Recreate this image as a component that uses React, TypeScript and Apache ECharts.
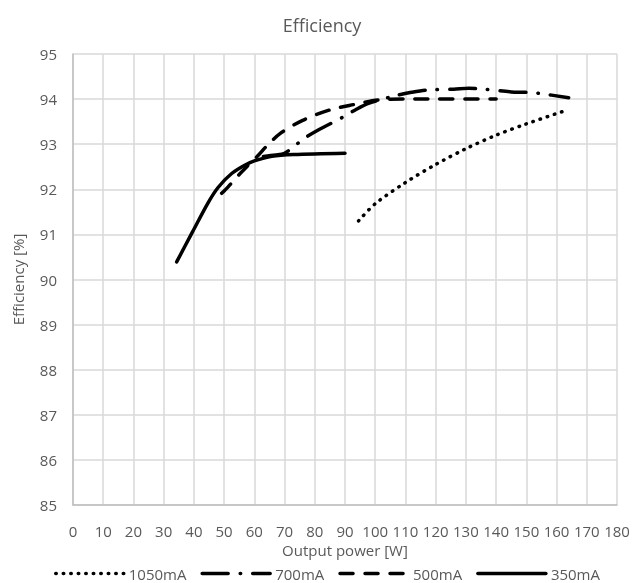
import React, { useEffect, useRef } from "react";
import * as echarts from "echarts";

const chartTitle = "Efficiency";
const xName = "Output power [W]";
const yName = "Efficiency [%]";
const seriesNames = ["1050mA", "700mA", "500mA", "350mA"];

// [output power W, efficiency %]
const data1050: number[][] = [
  [94.5, 91.3], [100, 91.68], [110, 92.15], [120, 92.55], [130, 92.9],
  [140, 93.2], [150, 93.45], [163.6, 93.76],
];
const data700: number[][] = [
  [63, 92.73], [67, 92.76], [70, 92.8], [74, 93.0], [77, 93.15], [81, 93.31],
  [89.6, 93.61], [93.4, 93.76], [98, 93.91], [107, 94.08], [112, 94.15],
  [117, 94.2], [126, 94.22], [131, 94.24], [136, 94.22], [145, 94.16],
  [150, 94.15], [154, 94.13], [164, 94.03],
];
const data500: number[][] = [
  [49.2, 91.91], [51.4, 92.06], [55.3, 92.35], [57.5, 92.5], [61.4, 92.76],
  [64.1, 92.96], [68.6, 93.24], [76, 93.53], [85, 93.76], [93, 93.88],
  [101, 93.98], [110, 94.0], [120, 94.0], [140, 94.0],
];
const data350: number[][] = [
  [34.3, 90.39], [39.5, 91.05], [44.6, 91.69], [48, 92.04], [52.5, 92.35],
  [57, 92.54], [60, 92.63], [65.8, 92.73], [73, 92.77], [90, 92.8],
];

const textColor = "#595959";
const fontFamily = "'Open Sans', sans-serif";

export default function App() {
  const ref = useRef<HTMLDivElement>(null);
  useEffect(() => {
    const chart = echarts.init(ref.current!, null, { renderer: "svg" });
    const mk = (name: string, data: number[][], type: any, smooth = 0.3) => ({
      name,
      type: "line",
      data,
      smooth,
      symbol: "none",
      showSymbol: false,
      lineStyle: { color: "#000", width: 3.5, type, cap: "round" },
      itemStyle: { color: "#000" },
    });
    chart.setOption({
      animation: false,
      textStyle: { fontFamily },
      title: {
        text: chartTitle,
        left: "center",
        top: 11,
        textStyle: { color: textColor, fontSize: 18, fontWeight: "normal", fontFamily },
      },
      grid: { left: 73, right: 27, top: 54, bottom: 78 },
      xAxis: {
        type: "value",
        min: 0,
        max: 180,
        interval: 10,
        name: xName,
        nameLocation: "middle",
        nameGap: 36,
        nameTextStyle: { color: textColor, fontSize: 15, fontFamily },
        axisLine: { show: true, lineStyle: { color: "#bfbfbf", width: 1.5 } },
        axisTick: { show: false },
        axisLabel: { color: textColor, fontSize: 15, margin: 18, fontFamily },
        splitLine: { show: true, lineStyle: { color: "#d9d9d9", width: 1.5 } },
      },
      yAxis: {
        type: "value",
        min: 85,
        max: 95,
        interval: 1,
        name: yName,
        nameLocation: "middle",
        nameGap: 48,
        nameTextStyle: { color: textColor, fontSize: 15, fontFamily },
        axisLine: { show: true, lineStyle: { color: "#bfbfbf", width: 1.5 } },
        axisTick: { show: false },
        axisLabel: { color: textColor, fontSize: 15, margin: 16, fontFamily },
        splitLine: { show: true, lineStyle: { color: "#d9d9d9", width: 1.5 } },
      },
      legend: {
        data: seriesNames,
        left: 49,
        top: 561,
        itemWidth: 68,
        itemHeight: 12,
        itemGap: 14,
        itemStyle: { opacity: 0 },
        lineStyle: { width: 3.5 },
        textStyle: { color: textColor, fontSize: 15, fontFamily },
      },
      series: [
        mk(seriesNames[0], data1050, [0.5, 7]),
        mk(seriesNames[1], data700, [26, 12, 0.5, 12]),
        mk(seriesNames[2], data500, [13, 12]),
        mk(seriesNames[3], data350, "solid"),
      ],
    });
    return () => chart.dispose();
  }, []);
  return (
    <div
      ref={ref}
      style={{ position: "fixed", left: 0, top: 0, width: 644, height: 583 }}
    />
  );
}
